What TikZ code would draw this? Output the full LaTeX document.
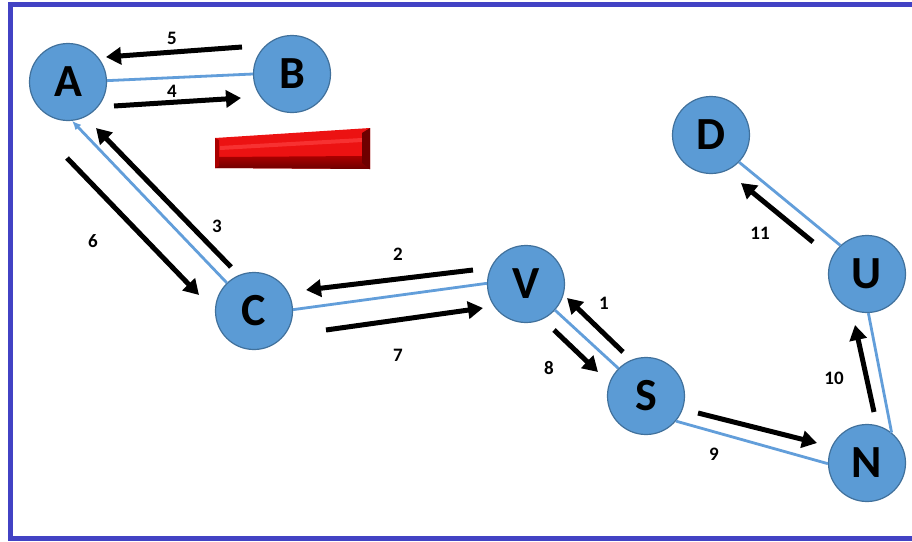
\documentclass[tikz,border=0pt]{standalone}
\usepackage{fontspec}
\setmainfont{Carlito}
\usetikzlibrary{arrows.meta}
\definecolor{nodefill}{RGB}{91,155,213}
\definecolor{nodeedge}{RGB}{65,113,156}
\definecolor{edgeblue}{RGB}{98,158,218}
\definecolor{framec}{RGB}{66,66,196}
\definecolor{barred}{RGB}{236,18,18}
\definecolor{barlight}{RGB}{255,70,70}
\definecolor{barmid}{RGB}{170,0,0}
\definecolor{bardark}{RGB}{110,0,0}
\tikzset{
  vertex/.style={circle, fill=nodefill, draw=nodeedge, line width=1.2pt, minimum size=77pt, inner sep=0pt,
    font=\bfseries\fontsize{46}{46}\selectfont, text=black},
  link/.style={draw=edgeblue, line width=2.8pt},
  move/.style={draw=black, line width=5pt, -{Triangle[length=15pt,width=17pt]}},
  numlbl/.style={font=\bfseries\fontsize{19}{19}\selectfont, text=black, inner sep=0pt},
}
\begin{document}
\begin{tikzpicture}[x=1pt,y=-1pt]
\useasboundingbox (0,0) rectangle (912,541);
\fill[white] (0,0) rectangle (912,541);
% frame
\draw[framec, line width=5pt] (912,4.5) -- (10.5,4.5) -- (10.5,538.5) -- (912,538.5);
% nodes
\node[vertex] (A) at (68,82) {A};
\node[vertex] (B) at (292,74) {B};
\node[vertex] (C) at (254,311) {C};
\node[vertex] (V) at (526,284) {V};
\node[vertex] (S) at (646,396) {S};
\node[vertex] (N) at (867,463) {N};
\node[vertex] (U) at (867,274) {U};
\node[vertex] (D) at (711,135) {D};
% blue links
\draw[link] (A.2) -- (B.180);
\draw[link, -{Latex[length=9pt,width=8pt]}] (C.134) -- (A.-84);
\draw[link] (C.2) -- (V.179);
\draw[link] (V.-42) -- (S.135);
\draw[link] (S.-40) -- (N.181);
\draw[link] (N.51) -- (U.-88);
\draw[link] (U.133) -- (D.-44);
% red bar
\fill[barred] (215,138) -- (370,128) -- (370,169) -- (215,168) -- cycle;
\fill[barlight, opacity=0.6] (220,146) -- (362,138) -- (362,142) -- (220,150) -- cycle;
\shade[top color=barmid, bottom color=bardark] (215,157) -- (362,156) -- (370,169) -- (215,168) -- cycle;
\fill[bardark] (362,133) -- (370,128) -- (370,169) -- (362,163) -- cycle;
\fill[barmid] (215,138) -- (219,140) -- (219,166) -- (215,168) -- cycle;
% black move arrows
\coordinate (t5) at (242,47);  \coordinate (h5) at (106,57);
\coordinate (t4) at (114,106); \coordinate (h4) at (241,98);
\coordinate (t3) at (231,267); \coordinate (h3) at (96,128);
\coordinate (t6) at (67,158);  \coordinate (h6) at (199,295);
\coordinate (t2) at (473,270); \coordinate (h2) at (306,290);
\coordinate (t7) at (326,330); \coordinate (h7) at (483,308);
\coordinate (t1) at (623,352); \coordinate (h1) at (567,298);
\coordinate (t8) at (554,330); \coordinate (h8) at (598,372);
\coordinate (t9) at (698,413); \coordinate (h9) at (817,443);
\coordinate (t10) at (874,412); \coordinate (h10) at (855,325);
\coordinate (t11) at (813,242); \coordinate (h11) at (741,183);
\foreach \k in {1,...,11} { \draw[move] (t\k) -- (h\k); }
% labels
\node[numlbl] (l5) at (172,38) {5};
\node[numlbl] (l4) at (172,91) {4};
\node[numlbl] (l3) at (217,226) {3};
\node[numlbl] (l6) at (93,241) {6};
\node[numlbl] (l2) at (398,254) {2};
\node[numlbl] (l7) at (398,355) {7};
\node[numlbl] (l1) at (604,303) {1};
\node[numlbl] (l8) at (549,368) {8};
\node[numlbl] (l9) at (714,454) {9};
\node[numlbl] (l10) at (834,378) {10};
\node[numlbl] (l11) at (760,233) {11};
\end{tikzpicture}
\end{document}
